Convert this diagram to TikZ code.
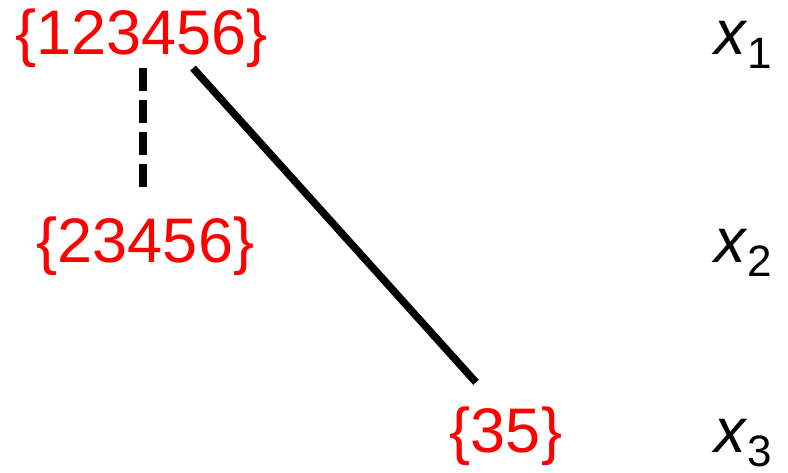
\documentclass[tikz,border=0pt]{standalone}
\usepackage{fontspec}
\setmainfont{Liberation Sans}
\begin{document}
\begin{tikzpicture}[x=1pt,y=-1pt,
  setlabel/.style={text=red,font=\fontsize{63}{63}\selectfont,inner sep=0pt,outer sep=0pt,anchor=base},
  varlabel/.style={text=black,font=\fontsize{63}{63}\selectfont,inner sep=0pt,outer sep=0pt,anchor=base west},
  edge/.style={line width=7.5pt,black}]
\useasboundingbox (0,0) rectangle (788,472);
\node[setlabel] (a) at (141.5,54) {\{123456\}};
\node[setlabel] (b) at (145.5,262) {\{23456\}};
\node[setlabel] (c) at (506,452) {\{35\}};
\newcommand{\varx}[1]{\textit{x}\raisebox{-14.5pt}{\fontsize{44}{44}\selectfont #1}}
\node[varlabel] (x1) at (714,54) {\varx{1}};
\node[varlabel] (x2) at (714,262) {\varx{2}};
\node[varlabel] (x3) at (714,452) {\varx{3}};
\coordinate (aDash) at ([xshift=1.5pt,yshift=-1pt]a.south);
\coordinate (bDash) at ([xshift=-2.5pt,yshift=27pt]b.north);
\draw[edge,line width=8pt,dash pattern=on 23pt off 9pt] (aDash) -- (aDash |- bDash);
\coordinate (aSolid) at ([xshift=51.5pt,yshift=-1pt]a.south);
\coordinate (cSolid) at ([xshift=-30pt,yshift=24pt]c.north);
\draw[edge] (aSolid) -- (cSolid);
\end{tikzpicture}
\end{document}
